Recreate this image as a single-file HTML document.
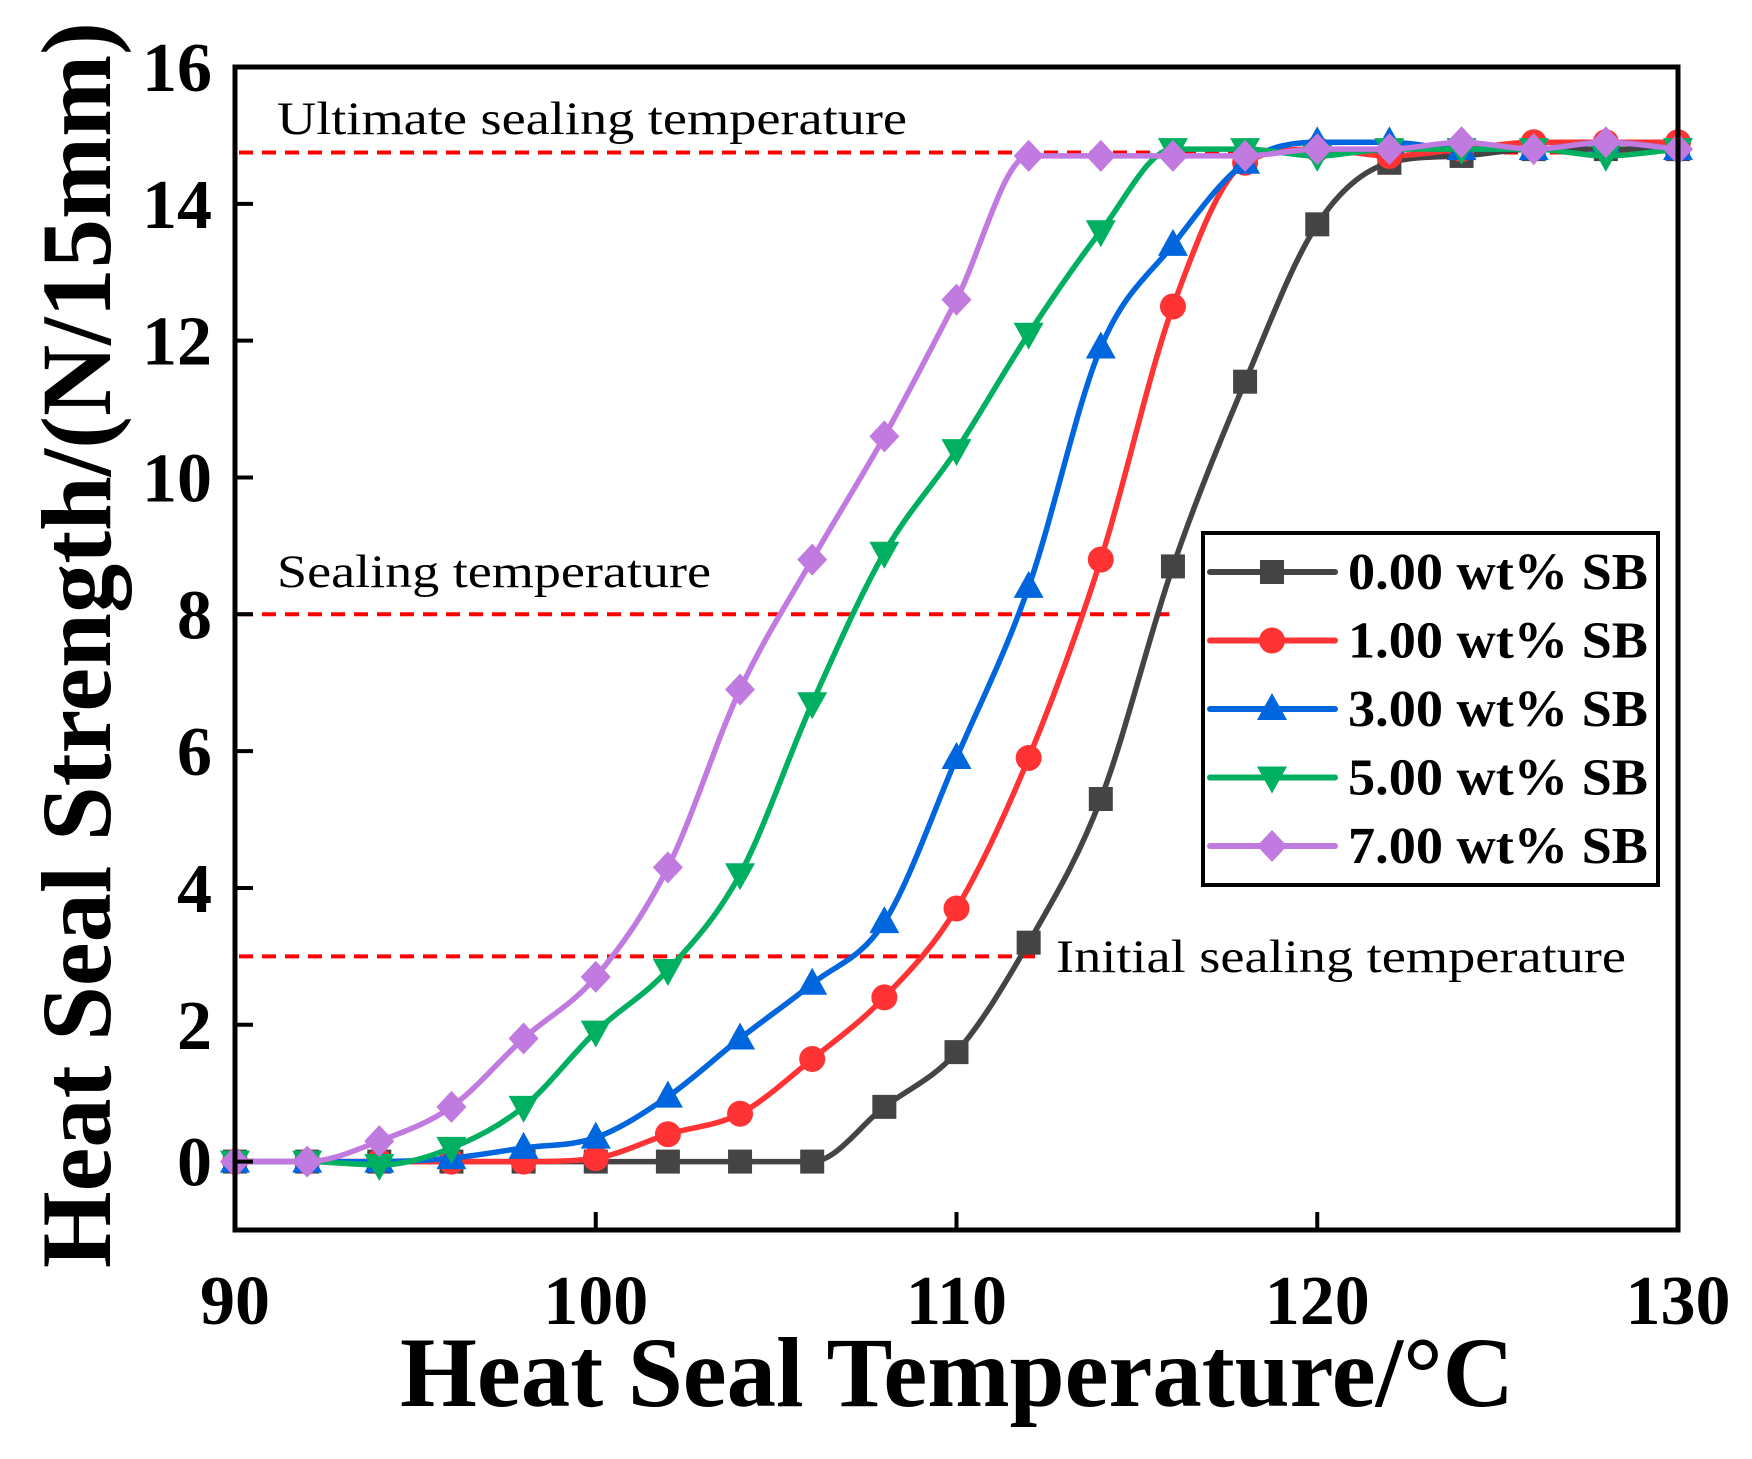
<!DOCTYPE html>
<html><head><meta charset="utf-8"><style>
html,body{margin:0;padding:0;background:#fff}
svg{display:block}
text{font-family:"Liberation Serif","Times New Roman",serif}
</style></head><body>
<svg id="chart" width="1752" height="1459" viewBox="0 0 1752 1459" xmlns="http://www.w3.org/2000/svg" font-family="Liberation Serif, Times New Roman, serif">
<g id="refs"></g>
<g id="series"></g>
<g id="axes"></g>
<g id="legend"></g>
</svg>
<script>
const temps = [90,92,94,96,98,100,102,104,106,108,110,112,114,116,118,120,122,124,126,128,130];
const s0 = [0,0,0,0,0,0,0,0,0,0.8,1.6,3.2,5.3,8.7,11.4,13.7,14.6,14.7,14.8,14.8,14.8];
const s1 = [0,0,0,0,0,0.05,0.4,0.7,1.5,2.4,3.7,5.9,8.8,12.5,14.6,14.8,14.7,14.8,14.9,14.9,14.9];
const s3 = [0,0,0,0.05,0.2,0.35,0.95,1.8,2.6,3.5,5.9,8.4,11.9,13.4,14.6,14.9,14.9,14.8,14.8,14.9,14.8];
const s5 = [0,0,-0.05,0.2,0.8,1.9,2.8,4.2,6.7,8.9,10.4,12.1,13.6,14.8,14.8,14.7,14.8,14.8,14.8,14.7,14.8];
const s7 = [0,0,0.3,0.8,1.8,2.7,4.3,6.9,8.8,10.6,12.6,14.7,14.7,14.7,14.7,14.8,14.8,14.9,14.8,14.9,14.8];
const seriesNames = ["0.00 wt% SB","1.00 wt% SB","3.00 wt% SB","5.00 wt% SB","7.00 wt% SB"];
const xTicks = [90,100,110,120,130];
const yTicks = [0,2,4,6,8,10,12,14,16];
const refValues = [14.75,8,3];
const refEnds = [130,115.9,112.4];

const NS="http://www.w3.org/2000/svg";
const L=235,R=1678,T=67,B=1230,xMin=90,xMax=130,yMin=-1,yMax=16;
const sx=v=>L+(v-xMin)/(xMax-xMin)*(R-L);
const sy=v=>B-(v-yMin)/(yMax-yMin)*(B-T);
function mk(tag,attrs,parent){const e=document.createElementNS(NS,tag);for(const k in attrs)e.setAttribute(k,attrs[k]);parent.appendChild(e);return e;}
const gRefs=document.getElementById('refs'),gS=document.getElementById('series'),gA=document.getElementById('axes'),gL=document.getElementById('legend');
const FF='Liberation Serif, Times New Roman, serif';

refValues.forEach((v,i)=>{
  const l=mk('line',{x1:sx(90)+4,x2:sx(refEnds[i]),y1:sy(v),y2:sy(v),stroke:'#ff0000','stroke-width':4,'stroke-dasharray':'14 9'},gRefs);
  
  
});
const ann=[["Ultimate sealing temperature",277,134,630],["Sealing temperature",277,587,434],["Initial sealing temperature",1056,972,570]];
ann.forEach((a,i)=>{
  const t=mk('text',{x:a[1],y:a[2],'font-size':47,'font-family':FF,textLength:a[3],lengthAdjust:'spacingAndGlyphs',fill:'#000'},gRefs);
  t.textContent=a[0];
  
  
});

const colors=['#444444','#ff3333','#0066dd','#00b060','#c07ae0'];
const shapes=['square','circle','up','down','diamond'];
const all=[s0,s1,s3,s5,s7];
function marker(shape,x,y,c,parent){
  const r=13;let e;
  if(shape==='square')e=mk('rect',{x:x-r+1,y:y-r+1,width:2*r-2,height:2*r-2,fill:c},parent);
  else if(shape==='circle')e=mk('circle',{cx:x,cy:y,r:r,fill:c},parent);
  else if(shape==='up')e=mk('polygon',{points:`${x},${y-r-3} ${x+r+2},${y+r-2} ${x-r-2},${y+r-2}`,fill:c},parent);
  else if(shape==='down')e=mk('polygon',{points:`${x},${y+r+3} ${x+r+2},${y-r+2} ${x-r-2},${y-r+2}`,fill:c},parent);
  else e=mk('polygon',{points:`${x},${y-r-3} ${x+r+2},${y} ${x},${y+r+3} ${x-r-2},${y}`,fill:c},parent);
  return e;
}
function monotone(pts){
  const n=pts.length,dx=[],m=[],t=new Array(n);
  for(let i=0;i<n-1;i++){dx.push(pts[i+1][0]-pts[i][0]);m.push((pts[i+1][1]-pts[i][1])/dx[i]);}
  t[0]=m[0];t[n-1]=m[n-2];
  for(let i=1;i<n-1;i++){t[i]=(m[i-1]*m[i]<=0)?0:(m[i-1]+m[i])/2;}
  for(let i=0;i<n-1;i++){
    if(m[i]===0){t[i]=0;t[i+1]=0;continue;}
    const a=t[i]/m[i],b=t[i+1]/m[i],s=a*a+b*b;
    if(s>9){const k=3/Math.sqrt(s);t[i]=k*a*m[i];t[i+1]=k*b*m[i];}
  }
  let d=`M${pts[0][0]},${pts[0][1]}`;
  for(let i=0;i<n-1;i++){
    const h=dx[i]/3;
    d+=` C${pts[i][0]+h},${pts[i][1]+t[i]*h} ${pts[i+1][0]-h},${pts[i+1][1]-t[i+1]*h} ${pts[i+1][0]},${pts[i+1][1]}`;
  }
  return d;
}
all.forEach((s,si)=>{
  const g=mk('g',{},gS);
  
  
  const pts=temps.map((t,i)=>[sx(t),sy(s[i])]);
  const p=mk('path',{d:monotone(pts),fill:'none',stroke:colors[si],'stroke-width':5.5},g);
  
  
  pts.forEach((q,i)=>{
    const m=marker(shapes[si],q[0],q[1],colors[si],g);
    
    
  });
});

const frame=mk('rect',{x:L,y:T,width:R-L,height:B-T,fill:'none',stroke:'#000','stroke-width':5},gA);


xTicks.forEach(v=>{
  const l=mk('line',{x1:sx(v),x2:sx(v),y1:B,y2:B-18,stroke:'#000','stroke-width':4},gA);
  
  
  const t=mk('text',{x:sx(v),y:1324,'font-size':70,'font-weight':'bold','font-family':FF,'text-anchor':'middle'},gA);
  t.textContent=v;
  
  
});
yTicks.forEach(v=>{
  const l=mk('line',{x1:L,x2:L+18,y1:sy(v),y2:sy(v),stroke:'#000','stroke-width':4},gA);
  
  
  const t=mk('text',{x:212,y:sy(v)+24,'font-size':70,'font-weight':'bold','font-family':FF,'text-anchor':'end'},gA);
  t.textContent=v;
  
  
});
const xt=mk('text',{x:957,y:1406,'font-size':100,'font-weight':'bold','font-family':FF,'text-anchor':'middle',textLength:1114,lengthAdjust:'spacingAndGlyphs'},gA);
xt.textContent='Heat Seal Temperature/°C';


const yt=mk('text',{x:0,y:0,'font-size':100,'font-weight':'bold','font-family':FF,'text-anchor':'middle',textLength:1246,lengthAdjust:'spacingAndGlyphs',transform:'translate(110,645) rotate(-90)'},gA);
yt.textContent='Heat Seal Strength/(N/15mm)';



const lb=mk('rect',{x:1203,y:533,width:455,height:352,fill:'#fff',stroke:'#000','stroke-width':4},gL);


seriesNames.forEach((n,i)=>{
  const y=572+i*68.5;
  const g=mk('g',{},gL);
  
  
  mk('line',{x1:1210,x2:1335,y1:y,y2:y,stroke:colors[i],'stroke-width':6,'stroke-linecap':'round'},g);
  marker(shapes[i],1272,y,colors[i],g);
  const t=mk('text',{x:1348,y:y+17,'font-size':52,'font-weight':'bold','font-family':FF,textLength:300,lengthAdjust:'spacingAndGlyphs'},g);
  t.textContent=n;
});
</script>
</body></html>
